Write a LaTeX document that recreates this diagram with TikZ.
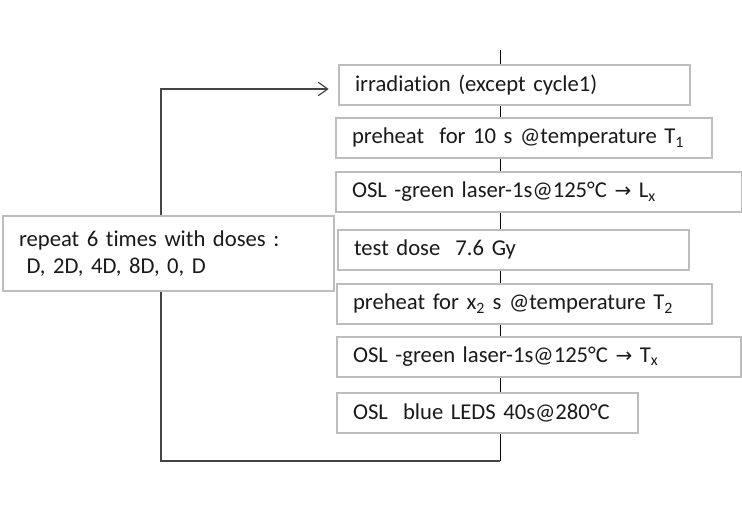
\documentclass[tikz,border=0pt]{standalone}
\usepackage{fontspec}
\setmainfont{Carlito}[Ligatures=NoCommon]
\newfontfamily\arrowfont{DejaVu Sans}
\usetikzlibrary{arrows.meta}
\definecolor{boxgray}{HTML}{BDBDBD}
\definecolor{linegray}{HTML}{454545}
\definecolor{txt}{HTML}{1A1A1A}
\newcommand\toarrow{{\arrowfont\fontsize{15}{17}\selectfont →}}
\begin{document}
\begin{tikzpicture}[x=0.75pt,y=-0.75pt,
  stepbox/.style={draw=boxgray, line width=1.5pt, fill=white, anchor=west,
    minimum height=30pt, inner xsep=12pt, inner ysep=0pt, align=left,
    font=\fontsize{17}{20}\selectfont, text=txt},
  conn/.style={draw=linegray, line width=1pt},
  axis/.style={draw=black, line width=0.75pt}]
\useasboundingbox (0,0) rectangle (742,529);

% loop line (behind the left box)
\coordinate (top) at (500,50);
\coordinate (bot) at (500,461);
\coordinate (lt) at (161,89);

\node[stepbox, text width=239.25pt] (b1) at (338,85) {irradiation (except cycle1)};
\node[stepbox, text width=258pt] (b2) at (335,137.5) {preheat\ \ for 10 s @temperature T\textsubscript{1}};
\node[stepbox, text width=280.5pt] (b3) at (335,192) {OSL -green laser-1s@125°C \toarrow\ L\textsubscript{x}};
\node[stepbox, text width=239.25pt] (b4) at (337,249.5) {test dose\ \ 7.6 Gy};
\node[stepbox, text width=257.25pt] (b5) at (336,303.5) {preheat for x\textsubscript{2} s @temperature T\textsubscript{2}};
\node[stepbox, text width=279pt] (b6) at (336,356.5) {OSL -green laser-1s@125°C \toarrow\ T\textsubscript{x}};
\node[stepbox, text width=201.75pt] (b7) at (336,412.5) {OSL\ \ blue LEDS 40s@280°C};

\draw[axis] (top) -- (b1.north -| top);
\draw[axis] (b1.south -| top) -- (b2.north -| top);
\draw[axis] (b2.south -| top) -- (b3.north -| top);
\draw[axis] (b3.south -| top) -- (b4.north -| top);
\draw[axis] (b4.south -| top) -- (b5.north -| top);
\draw[axis] (b5.south -| top) -- (b6.north -| top);
\draw[axis] (b6.south -| top) -- (b7.north -| top);
\draw[axis] (b7.south -| top) -- (bot);

\draw[conn, -{Straight Barb[length=7pt,width=10pt,line width=0.9pt]}, shorten >=7pt]
  (bot) -- (bot -| lt) -- (lt) -- (b1.west |- lt);

\node[stepbox, text width=224.25pt, minimum height=56.25pt] (rep) at (2,253.5)
  {repeat 6 times with doses :\\\ D, 2D, 4D, 8D, 0, D};
\end{tikzpicture}
\end{document}
